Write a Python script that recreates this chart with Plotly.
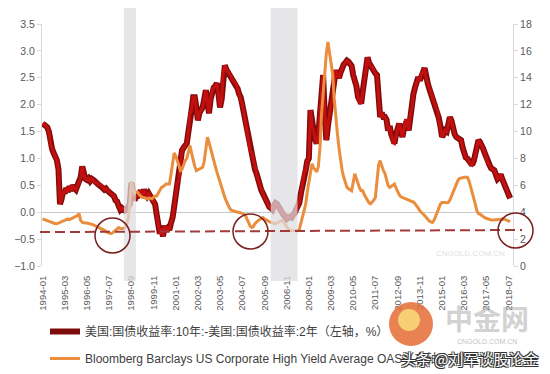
import plotly.graph_objects as go
import pandas as pd

# ---------------- data (monthly) ----------------
start_month = "1994-01-01"

spread_10y_2y = [
    1.65, 1.62, 1.60, 1.58, 1.50, 1.28, 1.18, 1.10, 1.05, 0.97, 0.80, 0.15,   # 1994
    0.25, 0.40, 0.35, 0.45, 0.38, 0.48, 0.40, 0.50, 0.45, 0.42, 0.50, 0.55,   # 1995
    0.65, 0.85, 0.70, 0.62, 0.60, 0.63, 0.58, 0.62, 0.60, 0.55, 0.55, 0.52,   # 1996
    0.50, 0.50, 0.45, 0.42, 0.44, 0.40, 0.38, 0.35, 0.32, 0.30, 0.22, 0.20,   # 1997
    0.12, 0.05, 0.08, 0.06, 0.03, 0.05, 0.08, 0.15, 0.55, 0.30, 0.22, 0.30,   # 1998
    0.30, 0.35, 0.40, 0.32, 0.42, 0.35, 0.30, 0.35, 0.30, 0.25, 0.20, 0.15,   # 1999
    -0.05, -0.25, -0.40, -0.30, -0.45, -0.25, -0.35, -0.30, -0.33, -0.20, -0.10, 0.10,  # 2000
    0.35, 0.55, 0.60, 0.90, 1.15, 1.20, 1.25, 1.28, 1.50, 1.84, 1.90, 2.14,   # 2001
    2.14, 1.95, 1.71, 1.85, 1.90, 1.95, 2.10, 2.27, 2.05, 1.84, 2.10, 2.25,   # 2002
    2.32, 2.35, 2.40, 2.20, 1.95, 2.10, 2.60, 2.73, 2.65, 2.60, 2.58, 2.50,   # 2003
    2.45, 2.42, 2.40, 2.30, 2.20, 2.14, 2.00, 1.85, 1.65, 1.50, 1.35, 1.15,   # 2004
    1.10, 0.95, 0.80, 0.72, 0.60, 0.50, 0.41, 0.35, 0.28, 0.22, 0.15, 0.10,   # 2005
    0.08, 0.05, 0.12, 0.17, 0.15, 0.08, 0.02, 0.00, -0.05, -0.08, -0.12, -0.09,  # 2006
    -0.10, -0.10, -0.05, -0.02, 0.05, 0.10, 0.17, 0.35, 0.55, 0.72, 0.78, 0.95,  # 2007
    1.00, 1.90, 1.60, 1.52, 1.35, 1.28, 1.45, 1.80, 2.20, 2.55, 1.80, 1.34,   # 2008
    1.60, 1.84, 2.00, 2.14, 2.45, 2.64, 2.55, 2.50, 2.60, 2.70, 2.75, 2.78,   # 2009
    2.82, 2.80, 2.75, 2.72, 2.55, 2.45, 2.35, 2.15, 2.05, 2.02, 2.25, 2.45,   # 2010
    2.70, 2.88, 2.78, 2.72, 2.70, 2.62, 2.58, 2.55, 2.10, 1.77, 1.85, 1.77,   # 2011
    1.77, 1.72, 1.52, 1.60, 1.45, 1.30, 1.28, 1.45, 1.55, 1.65, 1.50, 1.40,   # 2012
    1.55, 1.71, 1.71, 1.52, 1.80, 1.95, 2.20, 2.32, 2.45, 2.51, 2.45, 2.58,   # 2013
    2.60, 2.68, 2.50, 2.40, 2.30, 2.20, 2.14, 2.05, 1.95, 1.90, 1.75, 1.60,   # 2014
    1.40, 1.45, 1.52, 1.50, 1.65, 1.77, 1.70, 1.55, 1.45, 1.40, 1.38, 1.35,   # 2015
    1.34, 1.20, 1.10, 1.02, 1.00, 0.95, 0.90, 0.88, 0.95, 1.05, 1.20, 1.34,   # 2016
    1.30, 1.25, 1.18, 1.10, 1.00, 0.92, 0.88, 0.82, 0.80, 0.78, 0.70, 0.62,   # 2017
    0.65, 0.70, 0.62, 0.54, 0.48, 0.38, 0.30, 0.26,                           # 2018
]

hy_oas = [
    3.50, 3.45, 3.40, 3.35, 3.30, 3.25, 3.20, 3.18, 3.15, 3.14, 3.20, 3.25,   # 1994
    3.30, 3.35, 3.40, 3.45, 3.50, 3.45, 3.50, 3.55, 3.60, 3.65, 3.75, 3.90,   # 1995
    3.40, 3.24, 3.20, 3.20, 3.20, 3.17, 3.17, 3.10, 3.05, 3.00, 2.95, 2.90,   # 1996
    2.80, 2.77, 2.70, 2.65, 2.55, 2.50, 2.42, 2.40, 2.45, 2.55, 2.60, 2.75,   # 1997
    2.86, 2.80, 2.77, 2.80, 2.85, 3.10, 3.50, 4.50, 6.30, 5.80, 5.40, 5.50,   # 1998
    5.48, 5.30, 5.20, 5.10, 5.10, 5.05, 5.00, 5.05, 5.00, 5.00, 5.10, 5.20,   # 1999
    5.20, 5.40, 5.60, 5.85, 5.90, 6.00, 6.10, 6.10, 6.10, 6.80, 7.60, 8.40,   # 2000
    8.20, 7.80, 7.40, 7.10, 7.20, 7.60, 7.84, 8.00, 8.50, 8.96, 8.40, 7.80,   # 2001
    7.40, 7.10, 7.15, 7.20, 7.30, 7.34, 7.80, 8.60, 9.58, 9.20, 8.70, 8.36,   # 2002
    7.90, 7.40, 7.00, 6.60, 6.20, 5.80, 5.40, 5.10, 4.80, 4.50, 4.30, 4.15,   # 2003
    4.10, 4.05, 4.02, 4.00, 4.00, 3.95, 3.90, 3.85, 3.74, 3.50, 3.20, 2.95,   # 2004
    2.87, 2.95, 3.15, 3.30, 3.37, 3.45, 3.55, 3.60, 3.50, 3.42, 3.37, 3.30,   # 2005
    3.25, 3.20, 3.15, 3.14, 3.20, 3.28, 3.34, 3.37, 3.30, 3.10, 2.90, 2.75,   # 2006
    2.65, 2.62, 2.62, 2.62, 2.60, 2.62, 2.70, 3.20, 3.60, 4.10, 4.60, 5.50,   # 2007
    6.30, 7.00, 7.60, 7.30, 7.10, 7.00, 7.40, 8.80, 11.35, 13.00, 14.50, 15.80,  # 2008
    16.67, 15.80, 15.00, 14.30, 12.50, 11.00, 9.86, 8.80, 7.90, 7.10, 6.60, 6.20,  # 2009
    5.85, 5.75, 5.65, 5.60, 6.20, 6.87, 6.50, 6.10, 5.80, 5.60, 5.60, 5.30,   # 2010
    5.10, 4.90, 4.70, 4.63, 4.75, 4.90, 5.10, 6.60, 7.50, 7.84, 7.40, 7.10,   # 2011
    6.87, 6.40, 6.00, 5.85, 5.95, 6.05, 6.10, 5.80, 5.50, 5.30, 5.15, 5.10,   # 2012
    5.05, 5.00, 5.00, 4.95, 4.90, 4.85, 4.75, 4.63, 4.50, 4.30, 4.10, 3.95,   # 2013
    3.87, 3.75, 3.60, 3.45, 3.35, 3.28, 3.24, 3.40, 3.70, 4.00, 4.36, 4.60,   # 2014
    4.73, 4.75, 4.73, 4.70, 4.73, 4.90, 5.20, 5.50, 5.85, 6.10, 6.35, 6.50,   # 2015
    6.55, 6.60, 6.60, 6.60, 6.60, 6.35, 5.95, 5.60, 5.10, 4.60, 4.10, 3.90,   # 2016
    3.85, 3.75, 3.70, 3.60, 3.55, 3.50, 3.45, 3.42, 3.42, 3.42, 3.45, 3.45,   # 2017
    3.45, 3.48, 3.50, 3.50, 3.45, 3.40, 3.35, 3.30,                           # 2018
]

tick_labels = [
    "1994-01", "1995-03", "1996-05", "1997-07", "1998-09", "1999-11",
    "2001-01", "2002-03", "2003-05", "2004-07", "2005-09", "2006-11",
    "2008-01", "2009-03", "2010-05", "2011-07", "2012-09", "2013-11",
    "2015-01", "2016-03", "2017-05", "2018-07",
]

shaded_periods = [("1998-04-10", "1998-11-28"), ("2005-12-28", "2007-05-28")]
threshold_left, threshold_right = -0.37, -0.33

name_spread = "美国:国债收益率:10年:-美国:国债收益率:2年（左轴，%）"
name_oas = "Bloomberg Barclays US Corporate High Yield Average OAS（右轴，%）"

dates = pd.date_range(start_month, periods=len(spread_10y_2y), freq="MS")
tick_vals = [pd.Timestamp(t + "-01") for t in tick_labels]

# ---------------- layout geometry (pixels) ----------------
W, H = 550, 374
ML, MR, MT, MB = 42, 37, 24, 108
PW, PH = W - ML - MR, H - MT - MB


def px(x):
    return (x - ML) / PW


def py(y):
    return (H - MB - y) / PH


FONT = "Liberation Sans, Arial, Noto Sans CJK SC, sans-serif"
GRID_GREY = "#D9D9D9"
TICK_GREY = "#595959"

fig = go.Figure()

fig.add_trace(go.Scatter(
    x=dates, y=spread_10y_2y, mode="lines", name=name_spread,
    legendgroup="spread", line=dict(color="#7E0C0C", width=6),
    hoverinfo="skip",
))
fig.add_trace(go.Scatter(
    x=dates, y=spread_10y_2y, mode="lines", name=name_spread,
    legendgroup="spread", showlegend=False,
    line=dict(color="#C40F0F", width=3.2), hoverinfo="skip",
))
fig.add_trace(go.Scatter(
    x=dates, y=hy_oas, mode="lines", name=name_oas, yaxis="y2",
    legendgroup="oas", line=dict(color="#EA8D3D", width=3),
    hoverinfo="skip",
))

shapes = []
for a, b in shaded_periods:
    shapes.append(dict(
        type="rect", xref="x", yref="paper", x0=a, x1=b,
        y0=py(281), y1=py(8), line=dict(width=0),
        fillcolor="#DCDCE1", opacity=0.72, layer="above",
    ))

# dashed reference line
shapes.append(dict(
    type="line", xref="paper", yref="y", x0=px(40), x1=px(522),
    y0=threshold_left, y1=threshold_right,
    line=dict(color="#A33A3A", width=2, dash="10px,5px"), layer="above",
))

# highlight circles
for cx, cy in [(112.5, 235.5), (250.5, 231.5), (515.5, 230.5)]:
    r = 17.5
    shapes.append(dict(
        type="circle", xref="paper", yref="paper",
        x0=px(cx - r), x1=px(cx + r), y0=py(cy + r), y1=py(cy - r),
        line=dict(color="#7A1F1F", width=1.5), layer="above",
    ))

# watermark logo
shapes.append(dict(
    type="circle", xref="paper", yref="paper",
    x0=px(389), x1=px(433), y0=py(346), y1=py(302),
    line=dict(width=0), fillcolor="rgba(228,108,52,0.85)", layer="above",
))
shapes.append(dict(
    type="circle", xref="paper", yref="paper",
    x0=px(398), x1=px(420), y0=py(331), y1=py(309),
    line=dict(width=0), fillcolor="rgba(250,214,120,0.9)", layer="above",
))

annotations = [
    dict(text="中金网", xref="paper", yref="paper", x=px(487), y=py(318),
         xanchor="center", yanchor="middle", showarrow=False,
         font=dict(family="Noto Sans CJK SC", size=28,
                   color="rgba(165,165,165,0.5)", weight=700)),
    dict(text="CNGOLD.COM.CN", xref="paper", yref="paper", x=px(487), y=py(341),
         xanchor="center", yanchor="middle", showarrow=False,
         font=dict(family=FONT, size=7, color="rgba(165,165,165,0.7)")),
    dict(text="CNGOLD.COM.CN", xref="paper", yref="paper", x=px(470), y=py(253),
         xanchor="center", yanchor="middle", showarrow=False,
         font=dict(family=FONT, size=8, color="rgba(200,200,200,0.6)")),
    dict(text="头条 @刘军谈股论金", xref="paper", yref="paper", x=px(470), y=py(358),
         xanchor="center", yanchor="middle", showarrow=False,
         font=dict(family="Noto Sans CJK SC", size=15, color="white",
                   shadow="-1px -1px 0 #333, 1px -1px 0 #333, -1px 1px 0 #333, 1px 1px 0 #333")),
]

fig.update_layout(
    width=W, height=H,
    margin=dict(l=ML, r=MR, t=MT, b=MB, autoexpand=False),
    paper_bgcolor="white", plot_bgcolor="white",
    font=dict(family=FONT, color=TICK_GREY),
    showlegend=True,
    legend=dict(
        x=px(45), xanchor="left", y=py(317), yanchor="top",
        orientation="v", bgcolor="rgba(0,0,0,0)",
        font=dict(family=FONT, size=12, color="#404040"),
        tracegroupgap=8,
    ),
    xaxis=dict(
        type="date", range=["1993-12-20", "2018-09-25"],
        tickvals=tick_vals, ticktext=tick_labels, tickangle=-90,
        tickfont=dict(size=9.5, color=TICK_GREY),
        showgrid=False, showline=False, zeroline=False, automargin=False,
        ticks="outside", ticklen=5, tickcolor="rgba(0,0,0,0)",
    ),
    yaxis=dict(
        range=[-1, 3.5], dtick=0.5, tickformat=".1f", automargin=False,
        tickfont=dict(size=10.5, color=TICK_GREY),
        showgrid=False, showline=True, linecolor=GRID_GREY, linewidth=1,
        ticks="outside", ticklen=4, tickcolor=GRID_GREY,
        zeroline=True, zerolinecolor="#C8C8C8", zerolinewidth=1,
    ),
    yaxis2=dict(
        range=[0, 18], dtick=2, overlaying="y", side="right", automargin=False,
        tickfont=dict(size=10.5, color=TICK_GREY),
        showgrid=False, showline=True, linecolor=GRID_GREY, linewidth=1,
        ticks="outside", ticklen=4, tickcolor=GRID_GREY, zeroline=False,
    ),
    shapes=shapes,
    annotations=annotations,
)

fig.write_html(
    "out.html",
    config={"displayModeBar": False},
    post_script="document.body.style.margin='0';document.body.style.overflow='hidden';",
)
